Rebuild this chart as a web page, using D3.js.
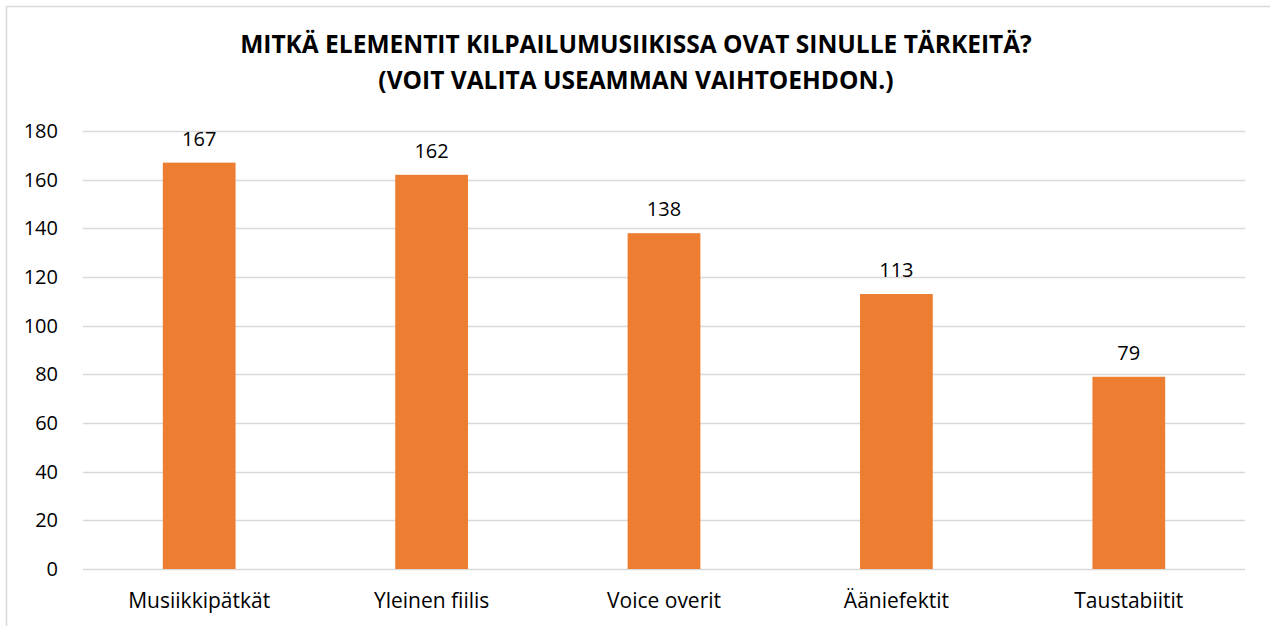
<!DOCTYPE html>
<html>
<head>
<meta charset="utf-8">
<script src="https://cdn.jsdelivr.net/npm/d3@7"></script>
<style>
  body { margin: 0; background: #fff; }
  svg text { font-family: "Open Sans", Lato, sans-serif; fill: #000; }
</style>
</head>
<body>
<div id="chart"></div>
<script>
// chart data
const categories = ["Musiikkipätkät", "Yleinen fiilis", "Voice overit", "Ääniefektit", "Taustabiitit"];
const values = [167, 162, 138, 113, 79];
const yTicks = [0, 20, 40, 60, 80, 100, 120, 140, 160, 180];
const titleLines = ["MITKÄ ELEMENTIT KILPAILUMUSIIKISSA OVAT SINULLE TÄRKEITÄ?", "(VOIT VALITA USEAMMAN VAIHTOEHDON.)"];

const width = 1270, height = 626;
const margin = {top: 131, right: 25, bottom: 57, left: 83};

const svg = d3.select("#chart")
    .append("svg")
    .attr("width", width)
    .attr("height", height);

// chart frame
svg.append("rect")
    .attr("x", 6.5)
    .attr("y", 6.5)
    .attr("width", width)
    .attr("height", height)
    .attr("fill", "none")
    .attr("stroke", "#d9d9d9")
    .attr("stroke-width", 1.5);

const g = svg.append("g")
    .attr("transform", `translate(${margin.left}, ${margin.top})`);

const plotW = width - margin.left - margin.right;
const plotH = height - margin.top - margin.bottom;

const x = d3.scaleBand()
    .domain(categories)
    .range([0, plotW])
    .padding(0);

const y = d3.scaleLinear()
    .domain([0, 180])
    .range([plotH, 0]);

// gridlines
g.selectAll(".grid")
    .data(yTicks)
    .enter()
    .append("line")
    .attr("x1", 0)
    .attr("x2", plotW)
    .attr("y1", d => Math.round(y(d)) + 0.5)
    .attr("y2", d => Math.round(y(d)) + 0.5)
    .attr("stroke", "#d9d9d9")
    .attr("stroke-width", 1.3);

// y axis labels
g.append("g")
    .call(d3.axisLeft(y).tickValues(yTicks).tickSize(0).tickPadding(25))
    .call(a => a.select(".domain").remove())
    .selectAll("text")
    .style("font-size", "20px");

// x axis labels
g.append("g")
    .attr("transform", `translate(0, ${plotH})`)
    .call(d3.axisBottom(x).tickSize(0).tickPadding(24))
    .call(a => a.select(".domain").remove())
    .selectAll("text")
    .style("font-size", "21px");

const barW = x.step() * 0.313;

g.selectAll(".bar")
    .data(values)
    .enter()
    .append("rect")
    .attr("x", (d, i) => x(categories[i]) + x.bandwidth() / 2 - barW / 2)
    .attr("y", d => y(d))
    .attr("width", barW)
    .attr("height", d => plotH - y(d))
    .attr("fill", "#ed7d31");

g.selectAll(".val")
    .data(values)
    .enter()
    .append("text")
    .attr("x", (d, i) => x(categories[i]) + x.bandwidth() / 2)
    .attr("y", d => y(d) - 17)
    .attr("text-anchor", "middle")
    .style("font-size", "20px")
    .text(d => d);

// title
svg.selectAll(".title")
    .data(titleLines)
    .enter()
    .append("text")
    .attr("x", 636)
    .attr("y", (d, i) => 53 + i * 36)
    .attr("text-anchor", "middle")
    .style("font-size", "24.5px")
    .style("font-weight", "bold")
    .text(d => d);
</script>
</body>
</html>
